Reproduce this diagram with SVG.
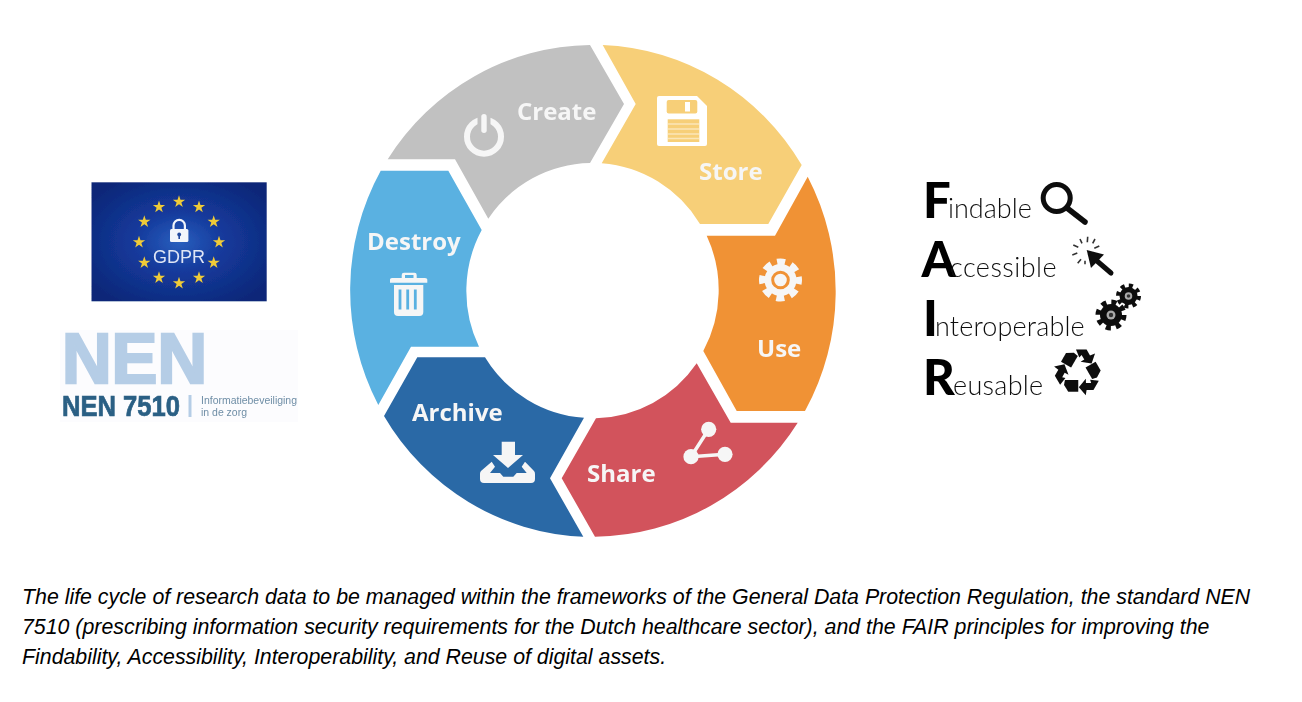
<svg xmlns="http://www.w3.org/2000/svg" width="1302" height="702" viewBox="0 0 1302 702">
<defs>
<filter id="soft" x="-5%" y="-5%" width="110%" height="110%"><feGaussianBlur stdDeviation="0.55"/></filter>
<radialGradient id="eu" cx="50%" cy="50%" r="62%"><stop offset="0" stop-color="#2a5fbe"/><stop offset="0.4" stop-color="#143a9c"/><stop offset="1" stop-color="#0d2778"/></radialGradient>
<polygon id="star" points="0,-6.5 1.47,-2.02 6.18,-2.01 2.38,0.77 3.82,5.26 0,2.5 -3.82,5.26 -2.38,0.77 -6.18,-2.01 -1.47,-2.02" fill="#f0cb38"/>
<g id="rec" fill="#0a0a0a">
<polygon points="-0.5,-15.7 -7.2,-4.2 -17.3,-10 -12.3,-18.7 -4.4,-19"/>
<polygon points="-2.3,-22.3 8.3,-22.3 11.7,-16.3 16.7,-18.3 13.3,-8.3 2.3,-10 6,-12.3 3.3,-16.7 1,-14.3"/>
</g>
</defs>
<style>
.lab{font-family:"Open Sans","Liberation Sans",sans-serif;font-weight:700;font-size:24px;fill:#f6f6f6}
.cap{font-family:"Liberation Sans",Arial,sans-serif;font-style:italic;font-size:21.33px;fill:#000}
.fair{font-family:Lato,"Open Sans",sans-serif;font-size:27px;font-weight:300;fill:#111}
.big{font-size:49px;font-weight:900;fill:#000}
.w{fill:#fff}
.ws{fill:none;stroke:#fff}
.nt{font-family:"Liberation Sans",Arial,sans-serif}
</style>
<rect width="1302" height="702" fill="#fff"/>
<g filter="url(#soft)">
<g id="create">
<path fill="#c1c1c1" d="M387.7,159.3 A243,246 0 0 1 590,45 L624,104 L590,163 A126,127.5 0 0 0 488.3,218.7 L455,159.3 Z"/>
<text class="lab" x="517" y="120">Create</text>
<circle cx="484" cy="136.7" r="17" fill="none" stroke="#f6f6f6" stroke-width="6"/>
<rect x="477.5" y="110" width="13" height="24" fill="#c1c1c1"/>
<rect x="481.3" y="114" width="5.4" height="19" rx="2.7" fill="#f6f6f6"/>
</g>
<g id="store">
<path fill="#f7cf78" d="M602.7,45 A243,246 0 0 1 801.7,165 L768.3,224 L700,224 A126,127.5 0 0 0 601.7,163.3 L635.7,104 Z"/>
<text class="lab" x="699" y="180">Store</text>
<path class="w" d="M659,96 H697 L707,106 V144 Q707,146 705,146 H659 Q657,146 657,144 V98 Q657,96 659,96 Z"/>
<rect x="666.7" y="100" width="30.6" height="13.5" rx="2" fill="#f7cf78"/>
<rect x="685" y="102" width="5" height="9.5" fill="#fff"/>
<rect x="667.7" y="119.3" width="31.6" height="22.7" fill="#f7cf78"/>
<path d="M668,124 H699 M668,129 H699 M668,134 H699 M668,138.5 H699" stroke="#fbe6b8" stroke-width="1.3"/>
</g>
<g id="use">
<path fill="#f09236" d="M807.7,176.7 A243,246 0 0 1 805,411 L736.7,411 L703.3,351 A126,127.5 0 0 0 706.7,235.7 L775,235.7 Z"/>
<text class="lab" x="757" y="357">Use</text>
<circle cx="780.5" cy="280" r="18" fill="none" stroke="#f6f6f6" stroke-width="7" stroke-dasharray="8 6.14" stroke-dashoffset="4"/>
<circle cx="780.5" cy="280" r="16" fill="#f6f6f6"/>
<circle cx="780.5" cy="280" r="7.8" fill="none" stroke="#f09236" stroke-width="3"/>
</g>
<g id="share">
<path fill="#d2535b" d="M797.7,422.7 A243,246 0 0 1 595,536.7 L561.7,478.3 L596,418.3 A126,127.5 0 0 0 696.7,363.3 L730.7,422.7 Z"/>
<text class="lab" x="587" y="482">Share</text>
<path d="M708.7,429.3 L691,456.7 L725,454.3" fill="none" stroke="#f6f6f6" stroke-width="3.5"/>
<circle cx="708.7" cy="429.3" r="7.6" fill="#f6f6f6"/>
<circle cx="691" cy="456.7" r="7.6" fill="#f6f6f6"/>
<circle cx="725" cy="454.3" r="7.6" fill="#f6f6f6"/>
</g>
<g id="archive">
<path fill="#2b69a6" d="M583.3,536.7 A243,246 0 0 1 384,416 L417.3,357.3 L485,357.3 A126,127.5 0 0 0 584,417.7 L550,478.3 Z"/>
<text class="lab" x="412" y="421">Archive</text>
<path fill="#f6f6f6" d="M501.7,441.7 H515 V455 H523 L508,468 L493,455 H501.7 Z"/>
<path fill="#f6f6f6" d="M491.7,461.7 L481,471 Q480,472 480,474 V479 Q480,483 484,483 H531 Q535,483 535,479 V474 Q535,472 534,471 L525,461.7 L521.7,466.7 L526.7,473 H516.7 L513.3,476.7 H503.3 L500,473 H490 L495,466.7 Z"/>
</g>
<g id="destroy">
<path fill="#5ab1e1" d="M380.7,170.7 L448.3,170.7 L481.7,230 A126,127.5 0 0 0 479,346.7 L411,346.7 L378.3,405 A243,246 0 0 1 380.7,170.7 Z"/>
<text class="lab" x="367" y="250">Destroy</text>
<path fill="#f6f6f6" d="M390,282.7 V279.5 Q390,278 392,278 H401.7 V275 Q401.7,272.7 404,272.7 H414.5 Q416.7,272.7 416.7,275 V278 H425 Q427.3,278 427.3,279.5 V282.7 Z"/>
<rect x="405" y="275" width="8.5" height="3" fill="#5ab1e1"/>
<path fill="#f6f6f6" d="M394,285 H423.3 V312 Q423.3,316 419.3,316 H398 Q394,316 394,312 Z"/>
<path d="M400,289.5 V309.5 M407.7,289.5 V309.5 M415.3,289.5 V309.5" stroke="#5ab1e1" stroke-width="2.8"/>
</g>
<g id="gdpr">
<rect x="91.5" y="182.3" width="175.2" height="119" fill="url(#eu)"/>
<use href="#star" x="179" y="201.7"/><use href="#star" x="199" y="207"/><use href="#star" x="213.7" y="221.7"/>
<use href="#star" x="219" y="242.3"/><use href="#star" x="213.7" y="262.7"/><use href="#star" x="199" y="277.7"/>
<use href="#star" x="179" y="283.3"/><use href="#star" x="159" y="277.7"/><use href="#star" x="144.3" y="262.7"/>
<use href="#star" x="139" y="242.3"/><use href="#star" x="144.3" y="221.7"/><use href="#star" x="159" y="207"/>
<rect x="170" y="229" width="18.4" height="13" rx="1.5" fill="#f2f5fb"/>
<path d="M173.5,229 V225.5 A5.7,5.7 0 0 1 184.9,225.5 V229" fill="none" stroke="#f2f5fb" stroke-width="2.2"/>
<circle cx="179.2" cy="234.5" r="1.9" fill="#234a9e"/>
<rect x="178.4" y="235" width="1.6" height="4" fill="#234a9e"/>
<text class="nt" x="179" y="263" text-anchor="middle" font-size="19" fill="#dfe6f5" textLength="52" lengthAdjust="spacingAndGlyphs">GDPR</text>
</g>
<g id="nen">
<rect x="60" y="330" width="238" height="92" fill="#fcfcfe"/>
<text class="nt" x="62" y="383" font-weight="700" font-size="70" fill="#b5cde6" stroke="#b5cde6" stroke-width="2.5" textLength="145" lengthAdjust="spacingAndGlyphs">NEN</text>
<text class="nt" x="62" y="416" font-weight="700" font-size="29" fill="#2a5f84" stroke="#2a5f84" stroke-width="0.7" textLength="118" lengthAdjust="spacingAndGlyphs">NEN 7510</text>
<rect x="188.5" y="395" width="3" height="22" fill="#b5cde6"/>
<text class="nt" x="201" y="404" font-size="10" fill="#6f8ea6" textLength="96" lengthAdjust="spacingAndGlyphs">Informatiebeveiliging</text>
<text class="nt" x="201" y="415.5" font-size="10" fill="#6f8ea6" textLength="46" lengthAdjust="spacingAndGlyphs">in de zorg</text>
</g>
<g id="fair">
<text class="fair" x="923" y="218"><tspan class="big">F</tspan><tspan x="948">indable</tspan></text>
<text class="fair" x="921.5" y="277" letter-spacing="0.45"><tspan class="big">A</tspan><tspan x="950">ccessible</tspan></text>
<text class="fair" x="923" y="336"><tspan class="big">I</tspan><tspan x="935" letter-spacing="0.15">nteroperable</tspan></text>
<text class="fair" x="923" y="395" letter-spacing="0.3"><tspan class="big">R</tspan><tspan x="953">eusable</tspan></text>
<circle cx="1056.7" cy="198" r="13.5" fill="none" stroke="#0a0a0a" stroke-width="5"/>
<path d="M1067,208 L1085,222" stroke="#0a0a0a" stroke-width="5.5" stroke-linecap="round"/>
<polygon points="1086.7,250 1104,254.5 1091,268" fill="#111"/>
<path d="M1097,261 L1111,273" stroke="#111" stroke-width="5" stroke-linecap="round"/>
<path d="M1073.3,245 L1078.3,247.3 M1080,239 L1082,243.3 M1087.7,236.7 L1087.3,242.3 M1095,239 L1092.7,243.3 M1099.3,246 L1094.3,248.3 M1072.3,255 L1077.3,253 M1077.7,263.3 L1081,259.3 M1085,264.3 L1085,260.7" stroke="#333" stroke-width="1.6"/>
<circle cx="1111" cy="315" r="12.5" fill="none" stroke="#0a0a0a" stroke-width="6" stroke-dasharray="4.9 4.92"/>
<circle cx="1111" cy="315" r="11" fill="#0a0a0a"/>
<circle cx="1111" cy="315" r="4.5" fill="#aaa"/>
<circle cx="1111" cy="315" r="2.2" fill="#333"/>
<circle cx="1128.5" cy="296" r="10" fill="none" stroke="#0a0a0a" stroke-width="5" stroke-dasharray="3.9 3.95"/>
<circle cx="1128.5" cy="296" r="9" fill="#0a0a0a"/>
<circle cx="1128.5" cy="296" r="3.8" fill="#aaa"/>
<circle cx="1128.5" cy="296" r="1.8" fill="#333"/>
<g transform="translate(1078.3,371.7)"><use href="#rec"/><use href="#rec" transform="rotate(120)"/><use href="#rec" transform="rotate(240)"/></g>
</g>
</g>
<g id="caption">
<text class="cap" x="22" y="604">The life cycle of research data to be managed within the frameworks of the General Data Protection Regulation, the standard NEN</text>
<text class="cap" x="22" y="634">7510 (prescribing information security requirements for the Dutch healthcare sector), and the FAIR principles for improving the</text>
<text class="cap" x="22" y="664">Findability, Accessibility, Interoperability, and Reuse of digital assets.</text>
</g>
</svg>
